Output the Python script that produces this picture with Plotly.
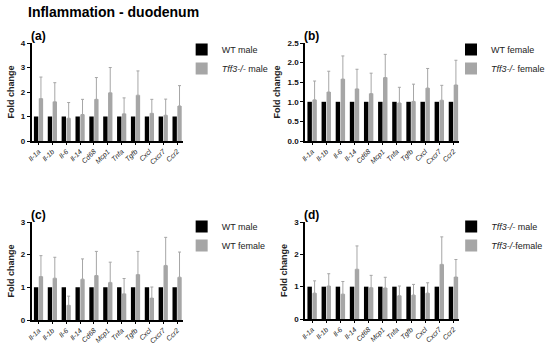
import plotly.graph_objects as go

genes = ["Il-1a", "Il-1b", "Il-6", "Il-14", "Cd68", "Mcp1", "Tnfa", "Tgfb", "Cxcl", "Cxcr7", "Ccr2"]

# panel (a)
a_ref = [1.0] * 11
a_val = [1.73, 1.60, 0.93, 1.08, 1.70, 1.97, 1.11, 1.87, 1.13, 1.05, 1.43]
a_top = [2.61, 2.38, 1.57, 1.70, 2.59, 3.00, 1.76, 2.86, 1.70, 1.71, 2.26]
# panel (b)
b_ref = [1.0] * 11
b_val = [1.05, 1.25, 1.58, 1.33, 1.21, 1.62, 0.97, 1.01, 1.35, 1.04, 1.43]
b_top = [1.53, 1.78, 2.17, 1.83, 1.73, 2.21, 1.37, 1.45, 1.85, 1.42, 2.06]
# panel (c)
c_ref = [1.0] * 11
c_val = [1.33, 1.28, 0.45, 1.25, 1.36, 1.15, 0.80, 1.39, 0.67, 1.67, 1.31]
c_top = [1.97, 1.92, 0.73, 1.87, 2.10, 1.77, 1.27, 2.10, 1.01, 2.53, 2.08]
# panel (d)
d_ref = [1.0] * 11
d_val = [0.80, 1.02, 0.77, 1.54, 0.97, 0.96, 0.72, 0.74, 0.80, 1.69, 1.30]
d_top = [1.18, 1.40, 1.16, 2.26, 1.35, 1.29, 1.02, 1.07, 1.12, 2.54, 1.84]

panels = [
    dict(tag="(a)", ref=a_ref, val=a_val, top=a_top,
         names=["WT male", "<i>Tff3-/-</i> male"], ymax=4, dtick=1, fmt="d"),
    dict(tag="(b)", ref=b_ref, val=b_val, top=b_top,
         names=["WT female", "<i>Tff3-/-</i> female"], ymax=2.5, dtick=0.5, fmt=".1f"),
    dict(tag="(c)", ref=c_ref, val=c_val, top=c_top,
         names=["WT male", "WT female"], ymax=3, dtick=1, fmt="d"),
    dict(tag="(d)", ref=d_ref, val=d_val, top=d_top,
         names=["<i>Tff3-/-</i> male", "<i>Tff3-/-</i>female"], ymax=3, dtick=1, fmt="d"),
]

W, H = 550, 347


def px(x):
    return x / W


def py(y):
    return 1 - y / H


# page-pixel boxes: (x0, x1, ytop, ybottom, legend_left, legend_top)
boxes = [(32, 185, 43, 141, 184, 35), (309, 465, 43, 141, 457, 35),
         (32, 185, 222, 320, 184, 212), (309, 465, 222, 319, 457, 212)]

BLACK = "#000000"
GRAY = "#a6a6a6"
FONT = "Liberation Sans, Arial, sans-serif"

fig = go.Figure()
xs = list(range(len(genes)))
ticktext = [f"<i>{g}</i>" for g in genes]

for i, p in enumerate(panels):
    n = "" if i == 0 else str(i + 1)
    lg = "legend" if i == 0 else f"legend{i + 1}"
    fig.add_trace(go.Bar(x=xs, y=p["ref"], name=p["names"][0], marker_color=BLACK,
                         marker_line_width=0, xaxis="x" + n, yaxis="y" + n,
                         legend=lg, offsetgroup="a"))
    fig.add_trace(go.Bar(x=xs, y=p["val"], name=p["names"][1], marker_color=GRAY,
                         marker_line_width=0, xaxis="x" + n, yaxis="y" + n,
                         legend=lg, offsetgroup="b",
                         error_y=dict(type="data", symmetric=False,
                                      array=[t - v for t, v in zip(p["top"], p["val"])],
                                      arrayminus=[0] * len(genes),
                                      color=GRAY, thickness=1, width=1.5)))
    x0, x1, yt, yb, lx, ly = boxes[i]
    fig.layout["xaxis" + n] = dict(
        domain=[px(x0), px(x1)], anchor="y" + n, range=[-0.5, 10.4], automargin=False,
        tickmode="array", tickvals=xs, ticktext=ticktext, tickangle=-45,
        tickfont=dict(size=7, color="#222", family=FONT),
        showline=True, linecolor="black", linewidth=1.5,
        ticks="outside", ticklen=2, tickcolor="black", showgrid=False, zeroline=False,
        fixedrange=True)
    fig.layout["yaxis" + n] = dict(
        domain=[py(yb), py(yt)], anchor="x" + n, range=[0, p["ymax"]], dtick=p["dtick"], tick0=0,
        tickformat=p["fmt"], automargin=False,
        tickfont=dict(size=8, color="#111", family=FONT, weight="bold"),
        showline=True, linecolor="black", linewidth=1.5,
        ticks="outside", ticklen=3, tickcolor="black", showgrid=False, zeroline=False,
        title=dict(text="<b>Fold change</b>", font=dict(size=9, family=FONT, color="#222"),
                   standoff=5),
        fixedrange=True)
    fig.layout[lg] = dict(x=px(lx), y=py(ly), xanchor="left", yanchor="top",
                          font=dict(size=9, family=FONT, color="#222"),
                          bgcolor="rgba(0,0,0,0)", itemwidth=30, tracegroupgap=0)
    fig.add_annotation(text=f"<b>{p['tag']}</b>", xref="paper", yref="paper",
                       x=px(x0 - 3), y=py(yt - 7), xanchor="left", yanchor="middle",
                       showarrow=False, font=dict(size=12, family=FONT, color="black"))

fig.add_annotation(text="<b>Inflammation - duodenum</b>", xref="paper", yref="paper",
                   x=px(26), y=py(12), xanchor="left", yanchor="middle", showarrow=False,
                   font=dict(size=14, family=FONT, color="black"))

fig.update_layout(template="none", width=W, height=H, margin=dict(l=0, r=0, t=0, b=0),
                  paper_bgcolor="white", plot_bgcolor="white",
                  barmode="group", bargap=0.3, bargroupgap=0.1, showlegend=True)

fig.write_html("out.html", config={"displayModeBar": False},
               post_script="document.body.style.margin='0px';")
